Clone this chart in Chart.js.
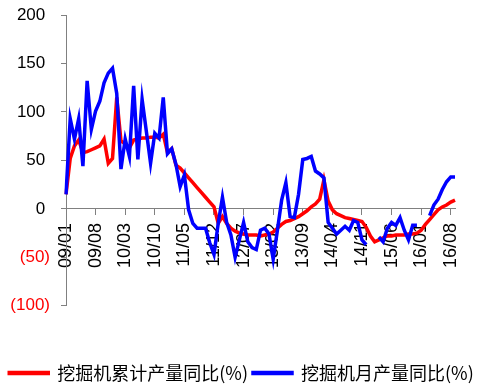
<!DOCTYPE html>
<html lang="zh">
<head>
<meta charset="UTF-8">
<title>挖掘机产量同比</title>
<script src="https://cdn.jsdelivr.net/npm/chart.js"></script>
<style>
  html, body { margin: 0; padding: 0; background: #ffffff; }
  #wrap { width: 483px; height: 387px; }
</style>
</head>
<body>
<div id="wrap"><canvas id="chart"></canvas></div>
<script>
  // months 09/01 .. 16/09
  const months = [];
  for (let y = 9; y <= 16; y++) {
    for (let m = 1; m <= 12; m++) {
      months.push(String(y).padStart(2, '0') + '/' + String(m).padStart(2, '0'));
    }
  }
  months.length = 93;

  const labelEvery = 7;
  const yTicks = [-100, -50, 0, 50, 100, 150, 200];

  // 挖掘机累计产量同比(%)
  const cumulative = [
    15, 52, 65, 71, 58, 59, 61, 63, 65, 72, 47, 52, 115,
    70, 67, 63, 71, 72, 73, 73, 74, 74, 73, 77, 58,
    62, 45, 42, 37, 32, 27, 22, 17, 12, 7, 2,
    -15, -8, -15, -20, -23, -25, -26, -27, -27, -27, -28, -27, -26,
    -24, -20, -16, -13, -12, -10, -8, -5, -2, 2, 5, 10,
    30, 8, -1, -5, -7, -9, -10, -11, -12, -13, -19, -28,
    -34, -32, -30, -28, -28, -27, -27, -27, -26, -26, -25, -22,
    -16, -11, -6, -1, 2, 4, 7, 9
  ];

  // 挖掘机月产量同比(%)
  const monthly = [
    15, 93, 72, 93, 44, 132, 82, 101, 111, 130, 140, 145, 119,
    41, 72, 54, 127, 51, 113, 80, 47, 78, 73, 115, 57,
    62, 46, 23, 35, -1, -15, -20, -20, -20, -35, -47,
    -15, 12, -14, -27, -50, -32, -14, -34, -40, -42, -22, -20, -26,
    -52, -22, 9, 27, -8, -9, 15, 51, 52, 54, 39, 36,
    32, -14, -20, -26, -22, -18, -22, -12, -14, -32, -37,
    null, null,
    -29, -34, -20, -14, -17, -9, -22, -32, -17, -17,
    null, null,
    -7, 4, 10, 20, 28, 33, 33
  ];

  const axisGray = '#808080';
  const fontFamily = "'Liberation Sans', Arial, sans-serif";

  new Chart(document.getElementById('chart'), {
    type: 'line',
    data: {
      labels: months,
      datasets: [
        {
          label: '挖掘机累计产量同比(%)',
          data: cumulative,
          borderColor: '#FF0000',
          backgroundColor: '#FF0000',
          borderWidth: 3.5,
          pointRadius: 0,
          tension: 0,
          order: 1
        },
        {
          label: '挖掘机月产量同比(%)',
          data: monthly,
          borderColor: '#0000FF',
          backgroundColor: '#0000FF',
          borderWidth: 3.5,
          pointRadius: 0,
          tension: 0,
          spanGaps: false,
          order: 0
        }
      ]
    },
    options: {
      responsive: true,
      maintainAspectRatio: false,
      animation: false,
      layout: { padding: { top: 15, bottom: -5 } },
      plugins: {
        tooltip: { enabled: false },
        legend: {
          position: 'bottom',
          title: { display: true, text: ' ', font: { size: 1 }, padding: { top: 52, bottom: 0 } },
          labels: {
            boxWidth: 39,
            boxHeight: 1,
            padding: 5,
            color: '#000000',
            font: { family: "'Noto Sans CJK SC', sans-serif", size: 18 },
            sort: (a, b) => a.datasetIndex - b.datasetIndex
          }
        }
      },
      scales: {
        x: {
          position: { y: 0 },
          grid: { drawOnChartArea: false, drawTicks: true, tickLength: 6, color: axisGray },
          border: { color: axisGray, width: 1 },
          ticks: {
            autoSkip: false,
            maxRotation: 90,
            minRotation: 90,
            padding: 8,
            color: '#000000',
            font: { family: fontFamily, size: 18 },
            callback: function (value, index) {
              return index % labelEvery === 0 ? this.getLabelForValue(value) : null;
            }
          }
        },
        y: {
          min: -100,
          max: 200,
          afterFit: scale => {
            scale.width = 66;
            scale.paddingTop = 0;
            scale.paddingBottom = 0;
          },
          afterBuildTicks: scale => { scale.ticks = yTicks.map(v => ({ value: v })); },
          grid: { drawOnChartArea: false, drawTicks: true, tickLength: 5, color: axisGray },
          border: { color: axisGray, width: 1 },
          ticks: {
            padding: 11,
            font: { family: fontFamily, size: 17 },
            color: ctx => (ctx.tick && ctx.tick.value < 0 ? '#FF0000' : '#000000'),
            callback: v => (v < 0 ? '(' + (-v) + ')' : v + ' ')
          }
        },
        yPad: {
          position: 'right',
          min: -100,
          max: 200,
          afterFit: scale => { scale.width = 28; },
          grid: { display: false },
          border: { display: false },
          ticks: { display: false }
        }
      }
    }
  });
</script>
</body>
</html>
